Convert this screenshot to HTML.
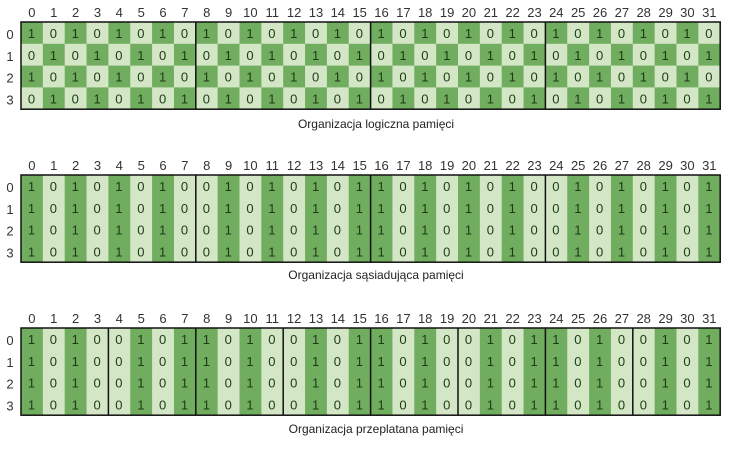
<!DOCTYPE html>
<html><head><meta charset="utf-8"><style>
html,body{margin:0;padding:0;background:#fff;}
svg{display:block;font-family:"Liberation Sans",sans-serif;}
.d{fill:#1e3a14;font-size:13px;}
.h{fill:#333;font-size:13px;text-anchor:middle;}
.c{fill:#222;font-size:12px;text-anchor:middle;}
</style></head><body>
<svg width="740" height="458" viewBox="0 0 740 458" xmlns="http://www.w3.org/2000/svg">
<defs>
<pattern id="chk" x="21" y="22" width="43.7" height="43.6" patternUnits="userSpaceOnUse">
<rect width="43.7" height="43.6" fill="#d3e6c6"/>
<rect width="21.85" height="21.8" fill="#70ad5f"/>
<rect x="21.85" y="21.8" width="21.85" height="21.8" fill="#70ad5f"/>
</pattern>
<g id="hdr">
<text class="h" x="31.9">0</text><text class="h" x="53.8">1</text><text class="h" x="75.6">2</text><text class="h" x="97.5">3</text><text class="h" x="119.3">4</text><text class="h" x="141.2">5</text><text class="h" x="163">6</text><text class="h" x="184.9">7</text><text class="h" x="206.7">8</text><text class="h" x="228.6">9</text><text class="h" x="250.4">10</text><text class="h" x="272.3">11</text><text class="h" x="294.1">12</text><text class="h" x="316">13</text><text class="h" x="337.8">14</text><text class="h" x="359.7">15</text><text class="h" x="381.5">16</text><text class="h" x="403.4">17</text><text class="h" x="425.2">18</text><text class="h" x="447.1">19</text><text class="h" x="468.9">20</text><text class="h" x="490.8">21</text><text class="h" x="512.6">22</text><text class="h" x="534.5">23</text><text class="h" x="556.3">24</text><text class="h" x="578.2">25</text><text class="h" x="600">26</text><text class="h" x="621.9">27</text><text class="h" x="643.7">28</text><text class="h" x="665.6">29</text><text class="h" x="687.4">30</text><text class="h" x="709.3">31</text>
<text class="h" x="10" y="22">0</text><text class="h" x="10" y="43.8">1</text><text class="h" x="10" y="65.6">2</text><text class="h" x="10" y="87.4">3</text>
</g>
</defs>

<rect x="21" y="22" width="699.2" height="87.2" fill="url(#chk)"/>
<g class="d">
<text x="27.9 49.8 71.6 93.5 115.3 137.2 159 180.9 202.7 224.6 246.4 268.3 290.1 312 333.8 355.7 377.5 399.4 421.2 443.1 464.9 486.8 508.6 530.5 552.3 574.2 596 617.9 639.7 661.6 683.4 705.3" y="38">10101010101010101010101010101010</text>
<text x="27.9 49.8 71.6 93.5 115.3 137.2 159 180.9 202.7 224.6 246.4 268.3 290.1 312 333.8 355.7 377.5 399.4 421.2 443.1 464.9 486.8 508.6 530.5 552.3 574.2 596 617.9 639.7 661.6 683.4 705.3" y="59.8">01010101010101010101010101010101</text>
<text x="27.9 49.8 71.6 93.5 115.3 137.2 159 180.9 202.7 224.6 246.4 268.3 290.1 312 333.8 355.7 377.5 399.4 421.2 443.1 464.9 486.8 508.6 530.5 552.3 574.2 596 617.9 639.7 661.6 683.4 705.3" y="81.6">10101010101010101010101010101010</text>
<text x="27.9 49.8 71.6 93.5 115.3 137.2 159 180.9 202.7 224.6 246.4 268.3 290.1 312 333.8 355.7 377.5 399.4 421.2 443.1 464.9 486.8 508.6 530.5 552.3 574.2 596 617.9 639.7 661.6 683.4 705.3" y="103.4">01010101010101010101010101010101</text>
</g>
<g stroke="#111" stroke-width="1.5" fill="none">
<rect x="21" y="22" width="699.2" height="87.2"/>
<line x1="195.8" y1="22" x2="195.8" y2="109.2"/><line x1="370.6" y1="22" x2="370.6" y2="109.2"/><line x1="545.4" y1="22" x2="545.4" y2="109.2"/>
</g>
<use href="#hdr" x="0" y="17"/>
<text class="c" x="376" y="128">Organizacja logiczna pamięci</text>

<rect x="21" y="175" width="699.2" height="87.2" fill="#d3e6c6"/>
<g fill="#70ad5f">
<rect x="21" y="175" width="21.85" height="87.2"/><rect x="64.7" y="175" width="21.85" height="87.2"/><rect x="108.4" y="175" width="21.85" height="87.2"/><rect x="152.1" y="175" width="21.85" height="87.2"/>
<rect x="217.65" y="175" width="21.85" height="87.2"/><rect x="261.35" y="175" width="21.85" height="87.2"/><rect x="305.05" y="175" width="21.85" height="87.2"/><rect x="348.75" y="175" width="21.85" height="87.2"/>
<rect x="370.6" y="175" width="21.85" height="87.2"/><rect x="414.3" y="175" width="21.85" height="87.2"/><rect x="458" y="175" width="21.85" height="87.2"/><rect x="501.7" y="175" width="21.85" height="87.2"/>
<rect x="567.25" y="175" width="21.85" height="87.2"/><rect x="610.95" y="175" width="21.85" height="87.2"/><rect x="654.65" y="175" width="21.85" height="87.2"/><rect x="698.35" y="175" width="21.85" height="87.2"/>
</g>
<g class="d">
<text x="27.9 49.8 71.6 93.5 115.3 137.2 159 180.9 202.7 224.6 246.4 268.3 290.1 312 333.8 355.7 377.5 399.4 421.2 443.1 464.9 486.8 508.6 530.5 552.3 574.2 596 617.9 639.7 661.6 683.4 705.3" y="191">10101010010101011010101001010101</text>
<text x="27.9 49.8 71.6 93.5 115.3 137.2 159 180.9 202.7 224.6 246.4 268.3 290.1 312 333.8 355.7 377.5 399.4 421.2 443.1 464.9 486.8 508.6 530.5 552.3 574.2 596 617.9 639.7 661.6 683.4 705.3" y="212.8">10101010010101011010101001010101</text>
<text x="27.9 49.8 71.6 93.5 115.3 137.2 159 180.9 202.7 224.6 246.4 268.3 290.1 312 333.8 355.7 377.5 399.4 421.2 443.1 464.9 486.8 508.6 530.5 552.3 574.2 596 617.9 639.7 661.6 683.4 705.3" y="234.6">10101010010101011010101001010101</text>
<text x="27.9 49.8 71.6 93.5 115.3 137.2 159 180.9 202.7 224.6 246.4 268.3 290.1 312 333.8 355.7 377.5 399.4 421.2 443.1 464.9 486.8 508.6 530.5 552.3 574.2 596 617.9 639.7 661.6 683.4 705.3" y="256.4">10101010010101011010101001010101</text>
</g>
<g stroke="#111" stroke-width="1.5" fill="none">
<rect x="21" y="175" width="699.2" height="87.2"/>
<line x1="195.8" y1="175" x2="195.8" y2="262.2"/><line x1="370.6" y1="175" x2="370.6" y2="262.2"/><line x1="545.4" y1="175" x2="545.4" y2="262.2"/>
</g>
<use href="#hdr" x="0" y="170"/>
<text class="c" x="376" y="279">Organizacja sąsiadująca pamięci</text>

<rect x="21" y="328" width="699.2" height="87.2" fill="#d3e6c6"/>
<g fill="#70ad5f">
<rect x="21" y="328" width="21.85" height="87.2"/><rect x="64.7" y="328" width="21.85" height="87.2"/><rect x="130.25" y="328" width="21.85" height="87.2"/><rect x="173.95" y="328" width="21.85" height="87.2"/>
<rect x="195.8" y="328" width="21.85" height="87.2"/><rect x="239.5" y="328" width="21.85" height="87.2"/><rect x="305.05" y="328" width="21.85" height="87.2"/><rect x="348.75" y="328" width="21.85" height="87.2"/>
<rect x="370.6" y="328" width="21.85" height="87.2"/><rect x="414.3" y="328" width="21.85" height="87.2"/><rect x="479.85" y="328" width="21.85" height="87.2"/><rect x="523.55" y="328" width="21.85" height="87.2"/>
<rect x="545.4" y="328" width="21.85" height="87.2"/><rect x="589.1" y="328" width="21.85" height="87.2"/><rect x="654.65" y="328" width="21.85" height="87.2"/><rect x="698.35" y="328" width="21.85" height="87.2"/>
</g>
<g class="d">
<text x="27.9 49.8 71.6 93.5 115.3 137.2 159 180.9 202.7 224.6 246.4 268.3 290.1 312 333.8 355.7 377.5 399.4 421.2 443.1 464.9 486.8 508.6 530.5 552.3 574.2 596 617.9 639.7 661.6 683.4 705.3" y="344">10100101101001011010010110100101</text>
<text x="27.9 49.8 71.6 93.5 115.3 137.2 159 180.9 202.7 224.6 246.4 268.3 290.1 312 333.8 355.7 377.5 399.4 421.2 443.1 464.9 486.8 508.6 530.5 552.3 574.2 596 617.9 639.7 661.6 683.4 705.3" y="365.8">10100101101001011010010110100101</text>
<text x="27.9 49.8 71.6 93.5 115.3 137.2 159 180.9 202.7 224.6 246.4 268.3 290.1 312 333.8 355.7 377.5 399.4 421.2 443.1 464.9 486.8 508.6 530.5 552.3 574.2 596 617.9 639.7 661.6 683.4 705.3" y="387.6">10100101101001011010010110100101</text>
<text x="27.9 49.8 71.6 93.5 115.3 137.2 159 180.9 202.7 224.6 246.4 268.3 290.1 312 333.8 355.7 377.5 399.4 421.2 443.1 464.9 486.8 508.6 530.5 552.3 574.2 596 617.9 639.7 661.6 683.4 705.3" y="409.4">10100101101001011010010110100101</text>
</g>
<g stroke="#111" stroke-width="1.5" fill="none">
<rect x="21" y="328" width="699.2" height="87.2"/>
<line x1="108.4" y1="328" x2="108.4" y2="415.2"/><line x1="195.8" y1="328" x2="195.8" y2="415.2"/><line x1="283.2" y1="328" x2="283.2" y2="415.2"/><line x1="370.6" y1="328" x2="370.6" y2="415.2"/>
<line x1="458" y1="328" x2="458" y2="415.2"/><line x1="545.4" y1="328" x2="545.4" y2="415.2"/><line x1="632.8" y1="328" x2="632.8" y2="415.2"/>
</g>
<use href="#hdr" x="0" y="323"/>
<text class="c" x="376" y="433">Organizacja przeplatana pamięci</text>
</svg>
</body></html>
